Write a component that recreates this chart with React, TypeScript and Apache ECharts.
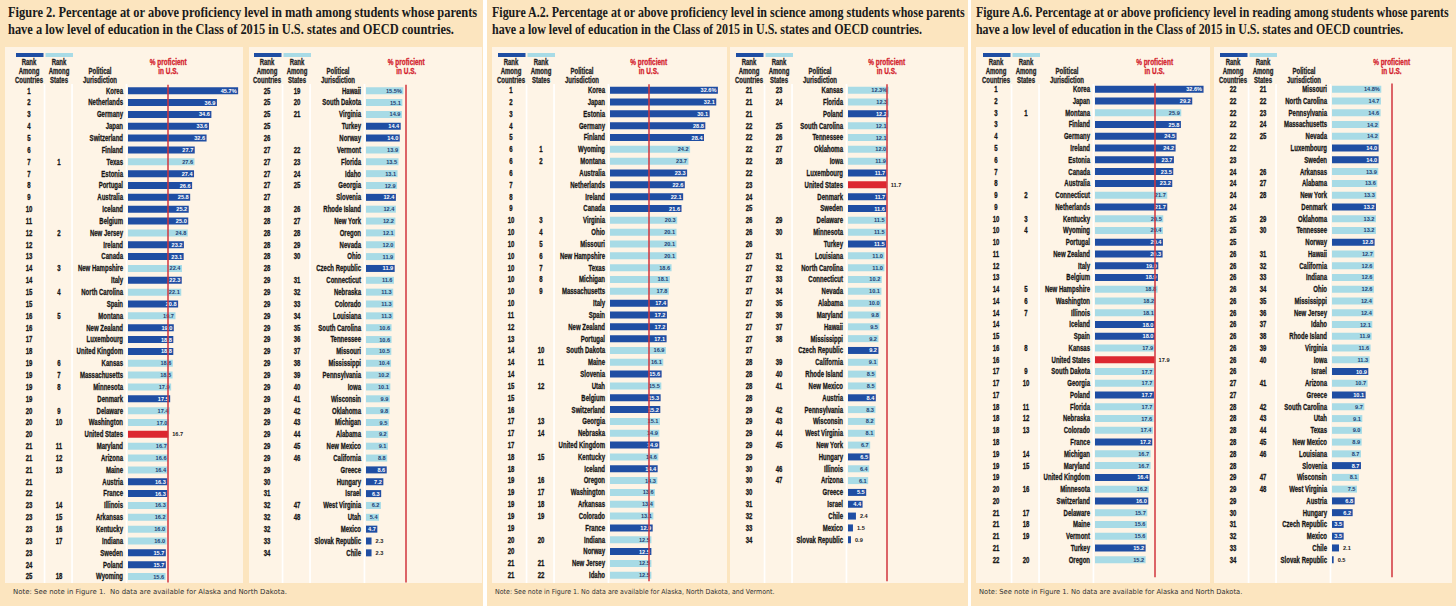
import React, { useEffect, useRef } from "react";
import * as echarts from "echarts";

// ---------- DATA: Math (Figure 2) ----------
const mathNamesA = ["Korea", "Netherlands", "Germany", "Japan", "Switzerland", "Finland", "Texas", "Estonia", "Portugal", "Australia", "Iceland", "Belgium", "New Jersey", "Ireland", "Canada", "New Hampshire", "Italy", "North Carolina", "Spain", "Montana", "New Zealand", "Luxembourg", "United Kingdom", "Kansas", "Massachusetts", "Minnesota", "Denmark", "Delaware", "Washington", "United States", "Maryland", "Arizona", "Maine", "Austria", "France", "Illinois", "Arkansas", "Kentucky", "Indiana", "Sweden", "Poland", "Wyoming"];
const mathCountryRankA = [1, 2, 3, 4, 5, 6, 7, 7, 8, 9, 10, 11, 12, 12, 13, 14, 14, 15, 15, 16, 16, 17, 18, 19, 19, 19, 19, 20, 20, 20, 21, 21, 21, 21, 22, 23, 23, 23, 23, 23, 24, 25];
const mathStateRankA = [null, null, null, null, null, null, 1, null, null, null, null, null, 2, null, null, 3, null, 4, null, 5, null, null, null, 6, 7, 8, null, 9, 10, null, 11, 12, 13, null, null, 14, 15, 16, 17, null, null, 18];
const mathValuesA = [45.7, 36.9, 34.6, 33.6, 32.6, 27.7, 27.6, 27.4, 26.6, 25.8, 25.2, 25.0, 24.8, 23.2, 23.1, 22.4, 22.3, 22.1, 20.8, 19.7, 19.0, 18.8, 18.8, 18.6, 18.5, 17.9, 17.5, 17.4, 17.0, 16.7, 16.7, 16.6, 16.4, 16.3, 16.3, 16.3, 16.2, 16.0, 16.0, 15.7, 15.7, 15.6];

const mathNamesB = ["Hawaii", "South Dakota", "Virginia", "Turkey", "Norway", "Vermont", "Florida", "Idaho", "Georgia", "Slovenia", "Rhode Island", "New York", "Oregon", "Nevada", "Ohio", "Czech Republic", "Connecticut", "Nebraska", "Colorado", "Louisiana", "South Carolina", "Tennessee", "Missouri", "Mississippi", "Pennsylvania", "Iowa", "Wisconsin", "Oklahoma", "Michigan", "Alabama", "New Mexico", "California", "Greece", "Hungary", "Israel", "West Virginia", "Utah", "Mexico", "Slovak Republic", "Chile"];
const mathCountryRankB = [25, 25, 25, 25, 26, 27, 27, 27, 27, 27, 28, 28, 28, 28, 28, 28, 29, 29, 29, 29, 29, 29, 29, 29, 29, 29, 29, 29, 29, 29, 29, 29, 29, 30, 31, 32, 32, 32, 33, 34];
const mathStateRankB = [19, 20, 21, null, null, 22, 23, 24, 25, null, 26, 27, 28, 29, 30, null, 31, 32, 33, 34, 35, 36, 37, 38, 39, 40, 41, 42, 43, 44, 45, 46, null, null, null, 47, 48, null, null, null];
const mathValuesB = [15.5, 15.1, 14.9, 14.4, 14.0, 13.9, 13.5, 13.1, 12.9, 12.4, 12.4, 12.2, 12.1, 12.0, 11.9, 11.9, 11.6, 11.3, 11.3, 11.3, 10.6, 10.6, 10.5, 10.4, 10.2, 10.1, 9.9, 9.8, 9.5, 9.2, 9.1, 8.8, 8.6, 7.2, 6.3, 6.2, 5.4, 4.7, 2.3, 2.3];

// ---------- DATA: Science (Figure A.2) ----------
const sciNamesA = ["Korea", "Japan", "Estonia", "Germany", "Finland", "Wyoming", "Montana", "Australia", "Netherlands", "Ireland", "Canada", "Virginia", "Ohio", "Missouri", "New Hampshire", "Texas", "Michigan", "Massachusetts", "Italy", "Spain", "New Zealand", "Portugal", "South Dakota", "Maine", "Slovenia", "Utah", "Belgium", "Switzerland", "Georgia", "Nebraska", "United Kingdom", "Kentucky", "Iceland", "Oregon", "Washington", "Arkansas", "Colorado", "France", "Indiana", "Norway", "New Jersey", "Idaho"];
const sciCountryRankA = [1, 2, 3, 4, 5, 6, 6, 6, 7, 8, 9, 10, 10, 10, 10, 10, 10, 10, 10, 11, 12, 13, 14, 14, 14, 15, 15, 16, 17, 17, 17, 18, 18, 19, 19, 19, 19, 19, 20, 20, 21, 21];
const sciStateRankA = [null, null, null, null, null, 1, 2, null, null, null, null, 3, 4, 5, 6, 7, 8, 9, null, null, null, null, 10, 11, null, 12, null, null, 13, 14, null, 15, null, 16, 17, 18, 19, null, 20, null, 21, 22];
const sciValuesA = [32.6, 32.1, 30.1, 28.8, 28.4, 24.2, 23.7, 23.3, 22.6, 22.1, 21.6, 20.3, 20.1, 20.1, 20.1, 18.6, 18.1, 17.8, 17.4, 17.2, 17.2, 17.1, 16.9, 16.1, 15.6, 15.5, 15.3, 15.2, 15.1, 14.9, 14.9, 14.6, 14.4, 14.3, 13.6, 13.4, 13.1, 12.9, 12.5, 12.5, 12.5, 12.5];

const sciNamesB = ["Kansas", "Florida", "Poland", "South Carolina", "Tennessee", "Oklahoma", "Iowa", "Luxembourg", "United States", "Denmark", "Sweden", "Delaware", "Minnesota", "Turkey", "Louisiana", "North Carolina", "Connecticut", "Nevada", "Alabama", "Maryland", "Hawaii", "Mississippi", "Czech Republic", "California", "Rhode Island", "New Mexico", "Austria", "Pennsylvania", "Wisconsin", "West Virginia", "New York", "Hungary", "Illinois", "Arizona", "Greece", "Israel", "Chile", "Mexico", "Slovak Republic"];
const sciCountryRankB = [21, 21, 21, 22, 22, 22, 22, 22, 23, 24, 25, 26, 26, 26, 27, 27, 27, 27, 27, 27, 27, 27, 27, 28, 28, 28, 28, 29, 29, 29, 29, 29, 30, 30, 30, 31, 32, 33, 34];
const sciStateRankB = [23, 24, null, 25, 26, 27, 28, null, null, null, null, 29, 30, null, 31, 32, 33, 34, 35, 36, 37, 38, null, 39, 40, 41, null, 42, 43, 44, 45, null, 46, 47, null, null, null, null, null];
const sciValuesB = [12.3, 12.3, 12.2, 12.1, 12.1, 12.0, 11.9, 11.7, 11.7, 11.7, 11.6, 11.5, 11.5, 11.5, 11.0, 11.0, 10.2, 10.1, 10.0, 9.8, 9.5, 9.2, 9.2, 9.1, 8.5, 8.5, 8.4, 8.3, 8.2, 8.1, 6.7, 6.5, 6.4, 6.1, 5.5, 4.4, 2.4, 1.5, 0.9];

// ---------- DATA: Reading (Figure A.6) ----------
const readNamesA = ["Korea", "Japan", "Montana", "Finland", "Germany", "Ireland", "Estonia", "Canada", "Australia", "Connecticut", "Netherlands", "Kentucky", "Wyoming", "Portugal", "New Zealand", "Italy", "Belgium", "New Hampshire", "Washington", "Illinois", "Iceland", "Spain", "Kansas", "United States", "South Dakota", "Georgia", "Poland", "Florida", "Nebraska", "Colorado", "France", "Michigan", "Maryland", "United Kingdom", "Minnesota", "Switzerland", "Delaware", "Maine", "Vermont", "Turkey", "Oregon"];
const readCountryRankA = [1, 2, 3, 3, 4, 5, 6, 7, 8, 9, 9, 10, 10, 10, 11, 12, 13, 14, 14, 14, 14, 15, 16, 16, 17, 17, 17, 18, 18, 18, 18, 19, 19, 19, 20, 20, 21, 21, 21, 21, 22];
const readStateRankA = [null, null, 1, null, null, null, null, null, null, 2, null, 3, 4, null, null, null, null, 5, 6, 7, null, null, 8, null, 9, 10, null, 11, 12, 13, null, 14, 15, null, 16, null, 17, 18, 19, null, 20];
const readValuesA = [32.6, 29.2, 25.9, 25.8, 24.5, 24.2, 23.7, 23.5, 23.2, 21.7, 21.7, 20.5, 20.4, 20.4, 20.3, 19.0, 18.9, 18.8, 18.2, 18.1, 18.0, 18.0, 17.9, 17.9, 17.7, 17.7, 17.7, 17.7, 17.6, 17.4, 17.2, 16.7, 16.7, 16.4, 16.2, 16.0, 15.7, 15.6, 15.6, 15.2, 15.2];

const readNamesB = ["Missouri", "North Carolina", "Pennsylvania", "Massachusetts", "Nevada", "Luxembourg", "Sweden", "Arkansas", "Alabama", "New York", "Denmark", "Oklahoma", "Tennessee", "Norway", "Hawaii", "California", "Indiana", "Ohio", "Mississippi", "New Jersey", "Idaho", "Rhode Island", "Virginia", "Iowa", "Israel", "Arizona", "Greece", "South Carolina", "Utah", "Texas", "New Mexico", "Louisiana", "Slovenia", "Wisconsin", "West Virginia", "Austria", "Hungary", "Czech Republic", "Mexico", "Chile", "Slovak Republic"];
const readCountryRankB = [22, 22, 22, 22, 22, 22, 23, 24, 24, 24, 24, 25, 25, 25, 26, 26, 26, 26, 26, 26, 26, 26, 26, 26, 26, 27, 27, 28, 28, 28, 28, 28, 28, 29, 29, 29, 30, 31, 32, 33, 34];
const readStateRankB = [21, 22, 23, 24, 25, null, null, 26, 27, 28, null, 29, 30, null, 31, 32, 33, 34, 35, 36, 37, 38, 39, 40, null, 41, null, 42, 43, 44, 45, 46, null, 47, 48, null, null, null, null, null, null];
const readValuesB = [14.8, 14.7, 14.6, 14.2, 14.2, 14.0, 14.0, 13.9, 13.6, 13.3, 13.2, 13.2, 13.2, 12.8, 12.7, 12.6, 12.6, 12.6, 12.4, 12.4, 12.1, 11.9, 11.6, 11.3, 10.9, 10.7, 10.1, 9.7, 9.1, 9.0, 8.9, 8.7, 8.7, 8.1, 7.5, 6.8, 6.2, 3.5, 3.5, 2.1, 0.5];

// ---------- TEXTS ----------
const titlesMath = ["Figure 2. Percentage at or above proficiency level in math among students whose parents", "have a low level of education in the Class of 2015 in U.S. states and OECD countries."];
const titlesSci = ["Figure A.2. Percentage at or above proficiency level in science among students whose parents", "have a low level of education in the Class of 2015 in U.S. states and OECD countries."];
const titlesRead = ["Figure A.6. Percentage at or above proficiency level in reading among students whose parents", "have a low level of education in the Class of 2015 in U.S. states and OECD countries."];
const noteMath = "Note: See note in Figure 1.  No data are available for Alaska and North Dakota.";
const noteSci = "Note: See note in Figure 1. No data are available for Alaska, North Dakota, and Vermont.";
const noteRead = "Note: See note in Figure 1. No data are available for Alaska and North Dakota.";
const headCountries = "Rank\nAmong\nCountries";
const headStates = "Rank\nAmong\nStates";
const headJurisdiction = "Political\nJurisdiction";
const headProficient = "% proficient\nin U.S.";

// ---------- STYLE / LAYOUT ----------
const SANS = "'Liberation Sans', Arial, 'DejaVu Sans', sans-serif";
const SERIF = "'Liberation Serif', 'DejaVu Serif', serif";
const NOTEF = "'DejaVu Sans', 'Noto Sans', sans-serif";
const DARK = "#1f4ea3";
const LIGHT = "#a8dbe6";
const RED = "#dc2830";
const PEACH = "#fce5bf";
const CREAM = "#fef4e6";
const INK = "#161616";
const ROWS = 42;
const GRID_W = 112;
const COND = 0.7; // horizontal condensing of the row/header font

type Col = { names: string[]; cr: number[]; sr: (number | null)[]; vals: number[] };
type Fig = { title: string[]; note: string; cols: Col[]; pxPerUnit: number; rowH: number; firstRow: number };

const FIGURES: Fig[] = [
  { title: titlesMath, note: noteMath, pxPerUnit: 2.41, rowH: 11.85, firstRow: 90.7,
    cols: [{ names: mathNamesA, cr: mathCountryRankA, sr: mathStateRankA, vals: mathValuesA }, { names: mathNamesB, cr: mathCountryRankB, sr: mathStateRankB, vals: mathValuesB }] },
  { title: titlesSci, note: noteSci, pxPerUnit: 3.31, rowH: 11.83, firstRow: 90.2,
    cols: [{ names: sciNamesA, cr: sciCountryRankA, sr: sciStateRankA, vals: sciValuesA }, { names: sciNamesB, cr: sciCountryRankB, sr: sciStateRankB, vals: sciValuesB }] },
  { title: titlesRead, note: noteRead, pxPerUnit: 3.33, rowH: 11.76, firstRow: 89.3,
    cols: [{ names: readNamesA, cr: readCountryRankA, sr: readStateRankA, vals: readValuesA }, { names: readNamesB, cr: readCountryRankB, sr: readStateRankB, vals: readValuesB }] },
];

const PANEL_X = [[0, 483], [487, 481], [971, 485]];
const SUB = [[[5, 238], [249, 233]], [[492, 235], [730, 234]], [[976, 234], [1214, 238]]];
const BX = [[128, 366], [610, 848], [1095, 1332]];
const TITLE_X = [8, 492, 976];
const TITLE_W = [470, 474, 474];
const NOTE_X = [13, 495, 979];
const NOTE_W = [274, 280, 264];

let measureCtx: CanvasRenderingContext2D | null = null;
function measure(text: string, font: string): number {
  if (!measureCtx) measureCtx = document.createElement("canvas").getContext("2d");
  if (!measureCtx) return text.length * 6;
  measureCtx.font = font;
  return measureCtx.measureText(text).width;
}

function buildOption() {
  const grids: any[] = [];
  const xAxes: any[] = [];
  const yAxes: any[] = [];
  const series: any[] = [];
  const graphics: any[] = [];

  FIGURES.forEach((fig, f) => {
    const [px, pw] = PANEL_X[f];
    graphics.push({ type: "rect", z: 0, silent: true, shape: { x: px, y: 0, width: pw, height: 606 }, style: { fill: PEACH } });

    const tFont = `bold 14px ${SERIF}`;
    const tScale = TITLE_W[f] / measure(fig.title[0], tFont);
    fig.title.forEach((line, li) => {
      graphics.push({
        type: "text", z: 5, silent: true, x: TITLE_X[f], y: li === 0 ? 12.5 : 29.5, scaleX: tScale,
        style: { text: line, fontSize: 14, fontWeight: "bold", fontFamily: SERIF, fill: "#1a1a1a", textAlign: "left", textVerticalAlign: "middle", verticalAlign: "middle" },
      });
    });
    const nFont = `7px ${NOTEF}`;
    const nScale = NOTE_W[f] / measure(fig.note, nFont);
    graphics.push({
      type: "text", z: 5, silent: true, x: NOTE_X[f], y: 591.5, scaleX: nScale,
      style: { text: fig.note, fontSize: 7, fontFamily: NOTEF, fill: "#333", textAlign: "left", textVerticalAlign: "middle", verticalAlign: "middle" },
    });

    let us = 0;
    fig.cols.forEach((col) => col.names.forEach((n, i) => { if (n === "United States") us = col.vals[i]; }));

    fig.cols.forEach((col, c) => {
      const gi = f * 2 + c;
      const bx = BX[f][c];
      const [sx, sw] = SUB[f][c];
      const max = GRID_W / fig.pxPerUnit;
      const top = fig.firstRow - fig.rowH / 2;
      const usX = bx + us * fig.pxPerUnit;

      graphics.push({ type: "rect", z: 1, silent: true, shape: { x: sx, y: 47, width: sw, height: 536 }, style: { fill: CREAM } });
      graphics.push({ type: "rect", z: 2, silent: true, shape: { x: bx - 112, y: 53, width: 27.5, height: 4 }, style: { fill: DARK } });
      graphics.push({ type: "rect", z: 2, silent: true, shape: { x: bx - 82.5, y: 53, width: 27.5, height: 4 }, style: { fill: LIGHT } });
      [bx - 84.3, bx - 56.8, bx - 2.4].forEach((lx) => {
        graphics.push({ type: "rect", z: 2, silent: true, shape: { x: lx, y: 84, width: 1.7, height: 499 }, style: { fill: "#ffffff" } });
      });
      const hStyle = { fontSize: 8.6, fontWeight: "bold", fontFamily: SANS, fill: "#222", stroke: "#222", lineWidth: 0.3, textAlign: "center", textVerticalAlign: "top", verticalAlign: "top", lineHeight: 9 };
      graphics.push({ type: "text", z: 5, silent: true, x: bx - 99, y: 58, scaleX: COND, style: { ...hStyle, text: headCountries } });
      graphics.push({ type: "text", z: 5, silent: true, x: bx - 69, y: 58, scaleX: COND, style: { ...hStyle, text: headStates } });
      graphics.push({ type: "text", z: 5, silent: true, x: bx - 28, y: 67, scaleX: COND, style: { ...hStyle, text: headJurisdiction } });
      graphics.push({ type: "text", z: 5, silent: true, x: usX, y: 58, scaleX: 0.75, style: { ...hStyle, fill: "#d3212d", stroke: "#d3212d", text: headProficient } });

      grids.push({ left: bx, top, width: GRID_W, height: ROWS * fig.rowH, containLabel: false });
      xAxes.push({ type: "value", gridIndex: gi, min: 0, max, show: false });
      const cats = Array.from({ length: ROWS }, (_, i) => (i < col.names.length ? col.names[i] : `pad${i}`));
      yAxes.push({
        type: "category", gridIndex: gi, inverse: true, data: cats,
        axisLine: { show: false }, axisTick: { show: false }, splitLine: { show: false }, axisLabel: { show: false },
      });

      const data = col.vals.map((v, i) => {
        const isUS = col.names[i] === "United States";
        const isState = col.sr[i] != null;
        const color = isUS ? RED : isState ? LIGHT : DARK;
        const outside = isUS || v < 3;
        return {
          value: v,
          itemStyle: { color },
          label: {
            position: outside ? "right" : "insideRight",
            distance: outside ? 4 : 1.5,
            color: outside ? "#222" : isState ? "#1f3f73" : "#ffffff",
          },
        };
      });

      series.push({
        type: "bar", xAxisIndex: gi, yAxisIndex: gi, barWidth: 7, silent: true, data,
        label: {
          show: true, fontSize: 5.6, fontWeight: "bold", fontFamily: SANS,
          formatter: (p: any) => (p.dataIndex === 0 ? `${p.value.toFixed(1)}%` : p.value.toFixed(1)),
        },
        markLine: {
          silent: true, symbol: ["none", "none"], label: { show: false },
          lineStyle: { color: "#d0343c", width: 1.5, type: "solid" },
          data: [{ xAxis: us }],
        },
      });

      // Row labels: country rank, state rank, jurisdiction name, placed on the category rows
      series.push({
        type: "custom", xAxisIndex: gi, yAxisIndex: gi, coordinateSystem: "cartesian2d", clip: false, silent: true,
        data: col.names.map((_, i) => [0, i]),
        encode: { x: 0, y: 1 },
        renderItem: (params: any, api: any) => {
          const i = params.dataIndex;
          const p = api.coord([0, i]);
          const base = { fontSize: 8.6, fontWeight: "bold", fontFamily: SANS, fill: INK, stroke: INK, lineWidth: 0.3, textVerticalAlign: "middle", verticalAlign: "middle" };
          const children: any[] = [
            { type: "text", x: p[0] - 99, y: p[1], scaleX: COND, style: { ...base, text: String(col.cr[i]), textAlign: "center" } },
            { type: "text", x: p[0] - 5, y: p[1], scaleX: COND, style: { ...base, text: col.names[i], textAlign: "right" } },
          ];
          const s = col.sr[i];
          if (s != null) children.push({ type: "text", x: p[0] - 69, y: p[1], scaleX: COND, style: { ...base, text: String(s), textAlign: "center" } });
          return { type: "group", children };
        },
      });
    });
  });

  return {
    animation: false,
    backgroundColor: "#ffffff",
    grid: grids,
    xAxis: xAxes,
    yAxis: yAxes,
    series,
    graphic: { elements: graphics },
  };
}

export default function App() {
  const ref = useRef<HTMLDivElement>(null);
  useEffect(() => {
    document.body.style.margin = "0";
    if (!ref.current) return;
    const chart = echarts.init(ref.current, null, { renderer: "svg" });
    chart.setOption(buildOption() as any);
    return () => chart.dispose();
  }, []);
  return <div ref={ref} style={{ width: 1456, height: 606 }} />;
}
